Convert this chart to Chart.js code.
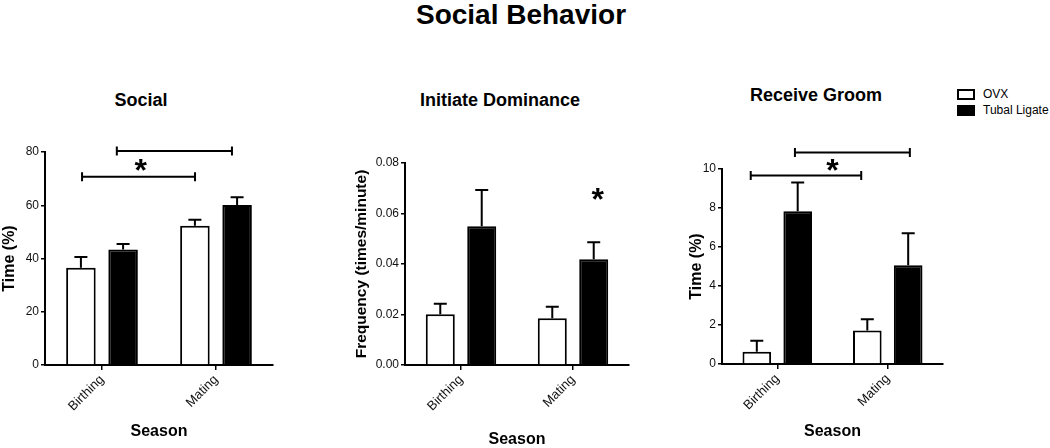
<!DOCTYPE html>
<html>
<head>
<meta charset="utf-8">
<script src="https://cdn.jsdelivr.net/npm/chart.js@4.4.0/dist/chart.umd.min.js"></script>
<style>
  body { margin: 0; background: #fff; width: 1050px; height: 448px; overflow: hidden; position: relative;
         font-family: "Liberation Sans", Arial, sans-serif; }
  .t { position: absolute; font-weight: bold; white-space: nowrap; transform: translateX(-50%); color: #000; }
  canvas { position: absolute; }
  #legend { position: absolute; left: 957px; top: 86px; font-size: 12px; }
  #legend div { height: 16px; display: flex; align-items: center; }
  #legend span.box { width: 14px; height: 7px; border: 2px solid #000; margin-right: 8px; }
</style>
</head>
<body>
<div class="t" style="left:521px;top:1px;font-size:28px;line-height:28px">Social Behavior</div>
<div class="t" style="left:141px;top:91px;font-size:18px;line-height:18px">Social</div>
<div class="t" style="left:500px;top:91px;font-size:18px;line-height:18px">Initiate Dominance</div>
<div class="t" style="left:816px;top:86px;font-size:18px;line-height:18px">Receive Groom</div>
<div id="legend"></div>

<canvas id="social" width="290" height="318" style="left:0px;top:130px"></canvas>
<canvas id="dominance" width="300" height="325" style="left:340px;top:130px"></canvas>
<canvas id="groom" width="280" height="318" style="left:680px;top:130px"></canvas>

<script>
const seasons = ['Birthing', 'Mating'];
const groups = ['OVX', 'Tubal Ligate'];
const groupFill = ['#ffffff', '#000000'];

// Social - time (%)
const socialOvx = [36.5, 52.3];
const socialOvxErr = [4.1, 2.3];
const socialTubal = [43.4, 60.1];
const socialTubalErr = [2.0, 2.9];
const socialTicks = [0, 20, 40, 60, 80];
const socialTickLabels = ['0', '20', '40', '60', '80'];
// [from category, to category, y value]
const socialBrackets = [[-0.175, 0.816, 70.7], [0.13, 1.14, 80.4]];
const socialStars = [[0.34, 75.8]];

// Initiate dominance - frequency (times/minute)
const domOvx = [0.0201, 0.0185];
const domOvxErr = [0.0042, 0.0046];
const domTubal = [0.0550, 0.0419];
const domTubalErr = [0.0143, 0.0067];
const domTicks = [0, 0.02, 0.04, 0.06, 0.08];
const domTickLabels = ['0.00', '0.02', '0.04', '0.06', '0.08'];
const domBrackets = [];
const domStars = [[1.22, 0.0685]];

// Receive groom - time (%)
const groomOvx = [0.63, 1.72];
const groomOvxErr = [0.56, 0.57];
const groomTubal = [7.83, 5.06];
const groomTubalErr = [1.48, 1.64];
const groomTicks = [0, 2, 4, 6, 8, 10];
const groomTickLabels = ['0', '2', '4', '6', '8', '10'];
const groomBrackets = [[-0.24, 0.76, 9.67], [0.16, 1.2, 10.85]];
const groomStars = [[0.5, 10.3]];

// legend
const legend = document.getElementById('legend');
groups.forEach((g, i) => {
  const row = document.createElement('div');
  row.innerHTML = '<span class="box" style="background:' + groupFill[i] + '"></span>' + g;
  legend.appendChild(row);
});

const extras = {
  id: 'extras',
  afterDatasetsDraw(chart, args, opts) {
    const { ctx, scales: { x, y } } = chart;
    ctx.save();
    ctx.strokeStyle = '#000';
    ctx.lineWidth = 2;
    opts.errors.forEach((errs, di) => {
      chart.getDatasetMeta(di).data.forEach((bar, i) => {
        const v = chart.data.datasets[di].data[i];
        const top = y.getPixelForValue(v + errs[i]);
        ctx.beginPath();
        ctx.moveTo(bar.x, bar.y);
        ctx.lineTo(bar.x, top);
        ctx.moveTo(bar.x - 6.5, top);
        ctx.lineTo(bar.x + 6.5, top);
        ctx.stroke();
      });
    });
    opts.brackets.forEach(([a, b, v]) => {
      const x1 = x.getPixelForValue(a), x2 = x.getPixelForValue(b), py = y.getPixelForValue(v);
      ctx.beginPath();
      ctx.moveTo(x1, py); ctx.lineTo(x2, py);
      ctx.moveTo(x1, py - 4.5); ctx.lineTo(x1, py + 4.5);
      ctx.moveTo(x2, py - 4.5); ctx.lineTo(x2, py + 4.5);
      ctx.stroke();
    });
    ctx.fillStyle = '#000';
    ctx.font = 'bold 32px "Liberation Sans", Arial, sans-serif';
    ctx.textAlign = 'center';
    ctx.textBaseline = 'alphabetic';
    opts.stars.forEach(([a, v]) => {
      ctx.fillText('*', x.getPixelForValue(a), y.getPixelForValue(v) + 18);
    });
    ctx.restore();
  }
};

function makeChart(id, ovx, ovxErr, tubal, tubalErr, ticks, tickLabels, brackets, stars, yTitle, lay) {
  return new Chart(document.getElementById(id), {
    type: 'bar',
    data: {
      labels: seasons,
      datasets: [
        { label: groups[0], data: ovx, backgroundColor: groupFill[0], borderColor: '#000', borderWidth: 2 },
        { label: groups[1], data: tubal, backgroundColor: groupFill[1], borderColor: '#000', borderWidth: 2 }
      ]
    },
    options: {
      responsive: false,
      animation: false,
      categoryPercentage: 0.74,
      barPercentage: 0.7,
      layout: { padding: { top: lay.top, right: lay.right, left: 0, bottom: 0 } },
      plugins: {
        legend: { display: false },
        tooltip: { enabled: false },
        extras: { errors: [ovxErr, tubalErr], brackets: brackets, stars: stars }
      },
      scales: {
        x: {
          afterFit: s => { s.height = lay.xh; },
          border: { color: '#000', width: 2 },
          grid: { drawOnChartArea: false, drawTicks: true, tickLength: 5, color: '#000', lineWidth: 1.5, offset: false },
          ticks: { color: '#111', font: { size: 13 }, minRotation: 45, maxRotation: 45, autoSkip: false, padding: 2 },
          title: { display: true, text: 'Season', color: '#000', font: { size: 16, weight: 'bold' },
                   padding: { top: 4, bottom: lay.sb } }
        },
        y: {
          min: ticks[0],
          max: ticks[ticks.length - 1],
          afterFit: s => { s.width = lay.yw; },
          afterBuildTicks: s => { s.ticks = ticks.map(v => ({ value: v })); },
          border: { color: '#000', width: 2 },
          grid: { drawOnChartArea: false, drawTicks: true, tickLength: 4, color: '#000', lineWidth: 1.5 },
          ticks: { color: '#111', font: { size: 12 }, padding: 2, callback: (v, i) => tickLabels[i] },
          title: { display: true, text: yTitle, color: '#000', font: { size: lay.yts, weight: 'bold' },
                   padding: { top: lay.yt, bottom: 0 } }
        }
      }
    },
    plugins: [extras]
  });
}

Chart.defaults.font.family = '"Liberation Sans", Arial, sans-serif';

makeChart('social', socialOvx, socialOvxErr, socialTubal, socialTubalErr, socialTicks, socialTickLabels,
  socialBrackets, socialStars, 'Time (%)', { top: 22, right: 17, xh: 83, yw: 45, sb: 6.4, yt: 0, yts: 16 });
makeChart('dominance', domOvx, domOvxErr, domTubal, domTubalErr, domTicks, domTickLabels,
  domBrackets, domStars, 'Frequency (times/minute)', { top: 33, right: 11, xh: 90, yw: 65, sb: 5.4, yt: 12, yts: 15.5 });
makeChart('groom', groomOvx, groomOvxErr, groomTubal, groomTubalErr, groomTicks, groomTickLabels,
  groomBrackets, groomStars, 'Time (%)', { top: 39, right: 17, xh: 84, yw: 42, sb: 6.4, yt: 7.4, yts: 16 });
</script>
</body>
</html>
